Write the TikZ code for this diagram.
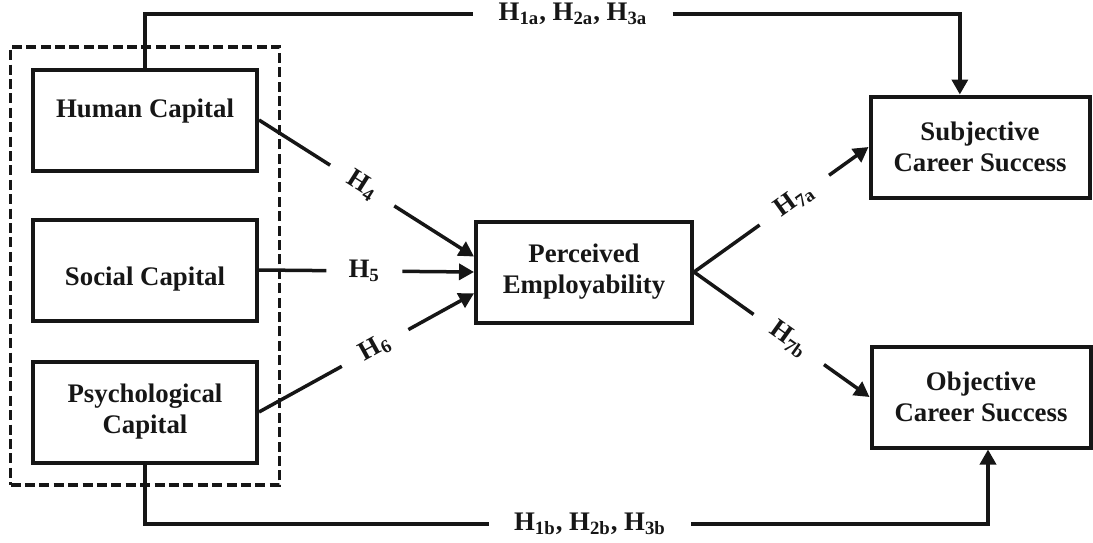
\documentclass[tikz,border=0pt]{standalone}
\usepackage{fontspec}
\setmainfont{Liberation Serif}
\usetikzlibrary{arrows.meta,positioning,fit}
\definecolor{ink}{HTML}{161616}
\tikzset{
  every node/.style={font=\bfseries\fontsize{13.4}{15.5}\selectfont,text=ink},
  link/.style={line width=1.75pt,draw=ink},
  arr/.style={-{Triangle[length=7.5pt,width=8pt]},line width=1.75pt,draw=ink},
  box/.style={draw=ink,line width=2pt,align=center,minimum width=112pt,minimum height=50.5pt,inner sep=2pt},
  outbox/.style={box,minimum width=109.5pt},
  hyp/.style={inner xsep=11pt,inner ysep=1pt},
  frame/.style={draw=ink,line width=1.75pt,dash pattern=on 5pt off 2.2pt,inner sep=10.25pt}
}

\begin{document}
\begin{tikzpicture}[x=0.5pt,y=-0.5pt]
  \path[use as bounding box] (0,0) rectangle (1093,542);

  % capitals on the left
  \node[box,text depth=12pt] (human) at (145,120) {Human Capital};
  \node[box,text height=18pt] (social) at (145,270) {Social Capital};
  \node[box] (psych) at (145,412) {Psychological\\Capital};
  \node[frame,fit=(human)(social)(psych)] (capitals) {};

  % mediator and outcomes
  \node[box,minimum width=108pt] (perc) at (584,272) {Perceived\\Employability};
  \node[outbox] (subj) at (980,147) {Subjective\\Career Success};
  \node[outbox] (obj) at (981,397) {Objective\\Career Success};

  % H4 - H6
  \foreach \src/\dst/\n/\p in {human/172/4/.48,social/180/5/.49,psych/191/6/.54} {
    \path (\src.east) -- (perc.\dst) node[hyp,sloped,pos=\p] (h\n) {H\textsubscript{\n}};
    \draw[link] (\src.east) -- (h\n);
    \draw[arr] (h\n) -- (perc.\dst);
  }

  % H7a, H7b
  \foreach \dst/\n/\p in {subj/7a/.575,obj/7b/.54} {
    \path (perc.east) -- (\dst.west) node[hyp,sloped,pos=\p] (h\n) {H\textsubscript{\n}};
    \draw[link] (perc.east) -- (h\n);
    \draw[arr] (h\n) -- (\dst.west);
  }

  % direct paths
  \node[hyp,inner xsep=12.5pt] (h1a) at (573,14) {H\textsubscript{1a}, H\textsubscript{2a}, H\textsubscript{3a}};
  \draw[link] (human.north) |- (h1a);
  \draw[arr] (h1a) -| (subj.111);

  \node[hyp,inner xsep=12.5pt] (h1b) at (590,524) {H\textsubscript{1b}, H\textsubscript{2b}, H\textsubscript{3b}};
  \draw[link] (psych.south) |- (h1b);
  \draw[arr] (h1b) -| ([xshift=3.5pt]obj.south);
\end{tikzpicture}
\end{document}
